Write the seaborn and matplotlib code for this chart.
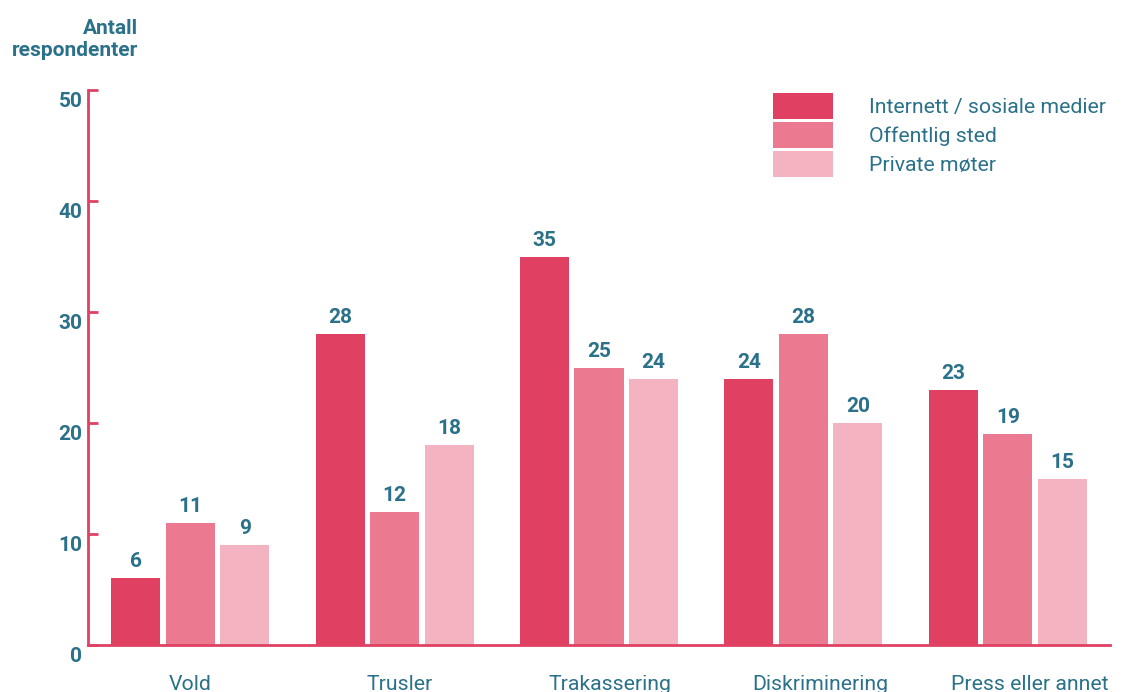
import pandas as pd
import seaborn as sns
import matplotlib.pyplot as plt
import matplotlib.transforms as mtransforms

# --- Data ---
CATEGORIES = ['Vold', 'Trusler', 'Trakassering', 'Diskriminering', 'Press eller annet']
SERIES = ['Internett / sosiale medier', 'Offentlig sted', 'Private møter']
INTERNETT = [6, 28, 35, 24, 23]
OFFENTLIG = [11, 12, 25, 28, 19]
PRIVATE = [9, 18, 24, 20, 15]
Y_TICKS = [0, 10, 20, 30, 40, 50]

# --- Style ---
COLORS = ['#e04163', '#eb7a91', '#f4b3c1']
TEXT_COLOR = '#2a7189'
AXIS_COLOR = '#e04163'
FONT = 'Roboto'

sns.set_style('white')
plt.rcParams['font.family'] = [FONT, 'DejaVu Sans']

rows = []
for series, values in zip(SERIES, [INTERNETT, OFFENTLIG, PRIVATE]):
    for cat, v in zip(CATEGORIES, values):
        rows.append({'Kategori': cat, 'Serie': series, 'Antall': v})
df = pd.DataFrame(rows)

fig = plt.figure(figsize=(11.25, 6.92), dpi=100)
ax = fig.add_axes([88 / 1125, 47 / 692, 1022 / 1125, 555 / 692])

sns.barplot(data=df, x='Kategori', y='Antall', hue='Serie', order=CATEGORIES,
            hue_order=SERIES, palette=COLORS, width=0.8, gap=0.1,
            saturation=1, linewidth=0, ax=ax, legend=True)

for container in ax.containers:
    ax.bar_label(container, padding=5, fontsize=15, fontweight='bold', color=TEXT_COLOR)

ax.set_xlim(-0.5, 4.5)
ax.set_ylim(0, 50)
ax.set_yticks(Y_TICKS)
ax.set_yticklabels([str(t) for t in Y_TICKS], fontsize=15, fontweight='bold',
                   color=TEXT_COLOR, va='top')
ax.tick_params(axis='y', left=True, direction='in', length=7, width=2,
               color=AXIS_COLOR, pad=4)
ax.tick_params(axis='x', bottom=False, length=0, pad=21.5, labelsize=15.3,
               labelcolor=TEXT_COLOR)
ax.set_xlabel('')
ax.set_ylabel('')

# nudge tick labels slightly: category labels drift right, y labels sit a bit lower
for i, lbl in enumerate(ax.get_xticklabels()):
    lbl.set_transform(lbl.get_transform() +
                      mtransforms.ScaledTranslation(i * 5.5 / 100, 0, fig.dpi_scale_trans))
for lbl in ax.get_yticklabels():
    lbl.set_transform(lbl.get_transform() +
                      mtransforms.ScaledTranslation(0, -2 / 100, fig.dpi_scale_trans))

for side in ['top', 'right']:
    ax.spines[side].set_visible(False)
for side in ['left', 'bottom']:
    ax.spines[side].set_color(AXIS_COLOR)
    ax.spines[side].set_linewidth(2)

fig.text(138 / 1125, 1 - 19 / 692, 'Antall\nrespondenter', ha='right', va='top',
         fontsize=15, fontweight='bold', color=TEXT_COLOR, linespacing=1.2)

handles, labels = ax.get_legend_handles_labels()
ax.legend(handles, labels, loc='upper left', bbox_to_anchor=(773 / 1125, 1 - 93 / 692),
          bbox_transform=fig.transFigure, frameon=False, fontsize=15.3,
          handlelength=2.8, handleheight=1.5, labelspacing=0.14, handletextpad=1.7,
          borderpad=0, borderaxespad=0, labelcolor=TEXT_COLOR)

fig.savefig('out.png', dpi=100)
